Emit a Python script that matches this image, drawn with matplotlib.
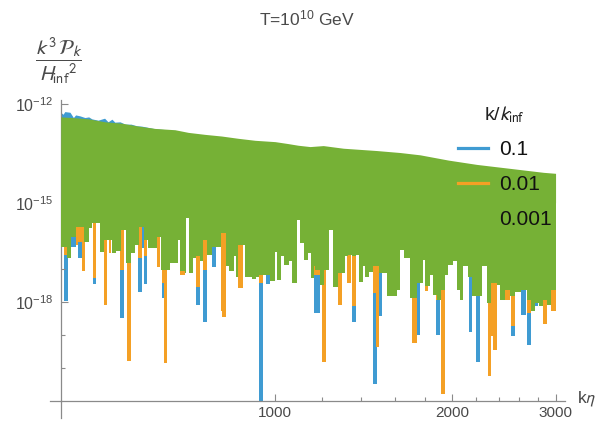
import numpy as np
import matplotlib.pyplot as plt
from matplotlib.lines import Line2D
from matplotlib.ticker import FixedLocator, NullFormatter

plt.rcParams['font.family'] = ['Liberation Sans', 'DejaVu Sans']
plt.rcParams['mathtext.fontset'] = 'stixsans'

# values; powers are log10 of k^3 P_k / H_inf^2
series_labels = ['0.1', '0.01', '0.001']
colors = ['#3f9bd2', '#f4a025', '#76b136']

# upper envelope of the k/k_inf = 0.001 curve
green_top_keta = [432, 452, 482, 514, 548, 586, 625, 676, 712, 760, 811, 866, 925,
                  1000, 1053, 1095, 1147, 1208, 1307, 1489, 1632, 1765, 1972, 2203,
                  2510, 2860, 3000]
green_top_log = [-12.40, -12.42, -12.46, -12.55, -12.59, -12.68, -12.75, -12.79, -12.87,
                 -12.93, -12.98, -13.05, -13.11, -13.15, -13.21, -13.26, -13.30, -13.27,
                 -13.35, -13.42, -13.48, -13.55, -13.71, -13.84, -13.96, -14.08, -14.11]

# lower (oscillation minima) profile of the 0.001 curve, as steps
green_low_keta = [432, 442, 450, 458, 474, 482, 489, 504, 512, 529, 537, 546, 557, 569,
                  578, 586, 598, 609, 629, 640, 663, 683, 690, 704, 707, 714, 724, 733,
                  745, 755, 767, 782, 793, 808, 824, 835, 851, 857, 865, 881, 889, 912,
                  928, 939, 955, 966, 981, 1000, 1009, 1024, 1037, 1056, 1070, 1089,
                  1103, 1120, 1136, 1151, 1166, 1170, 1193, 1212, 1235, 1256, 1281,
                  1301, 1315, 1332, 1350, 1371, 1391, 1410, 1423, 1447, 1467, 1505,
                  1549, 1579, 1614, 1632, 1660, 1697, 1743, 1788, 1800, 1835, 1860,
                  1885, 1917, 1946, 1972, 2011, 2037, 2064, 2091, 2127, 2160, 2252,
                  2291, 2330, 2383, 2414, 2462, 2510, 2560, 2621, 2680, 2725, 2768,
                  2815, 2860, 2898, 2947, 3000]
green_low_log = [-16.33, -16.68, -16.03, -15.73, -16.18, -15.78, -15.62, -16.48, -16.13,
                 -16.53, -16.46, -15.83, -16.83, -16.53, -16.28, -15.73, -16.13, -16.38,
                 -16.03, -17.03, -16.83, -16.13, -17.08, -17.13, -15.47, -17.13, -16.68,
                 -16.63, -16.78, -16.13, -16.58, -16.33, -16.33, -15.93, -16.93, -17.08,
                 -16.63, -17.24, -16.28, -16.28, -17.24, -17.32, -17.24, -17.19, -17.19,
                 -17.19, -17.36, -16.48, -17.34, -16.63, -16.88, -16.78, -17.44, -15.52,
                 -16.23, -16.73, -16.53, -17.29, -16.93, -17.03, -17.49, -17.03, -15.83,
                 -17.54, -17.13, -17.13, -16.63, -16.58, -16.63, -16.58, -17.39, -16.93,
                 -17.24, -17.11, -16.93, -17.13, -17.82, -17.84, -17.64, -16.43, -16.68,
                 -17.89, -17.44, -16.73, -17.52, -17.19, -17.79, -17.94, -17.64, -17.19,
                 -16.88, -16.78, -17.64, -17.94, -16.93, -17.24, -17.84, -16.93, -18.04,
                 -17.44, -17.50, -17.94, -17.64, -17.84, -17.70, -17.64, -17.94, -18.29,
                 -18.04, -18.14, -17.94, -18.09, -17.64, -17.64]

# upper envelope of the 0.1 curve where it shows above the green one
blue_top_keta = [432, 436, 439, 448, 454, 458, 466, 475, 482, 488, 500, 513, 520, 528,
                 534, 545, 556, 569, 582, 593, 609, 625, 676]
blue_top_log = [-12.26, -12.32, -12.24, -12.26, -12.42, -12.34, -12.37, -12.42, -12.40,
                -12.46, -12.50, -12.44, -12.55, -12.47, -12.56, -12.55, -12.62, -12.62,
                -12.67, -12.68, -12.72, -12.76, -12.81]

# deep minima that reach below the green band: start, end, depth
blue_dip_start = [432, 437, 450, 463, 490, 545, 585, 593, 598, 642, 733, 745, 755, 782,
                  939, 966, 1136, 1166, 1315, 1350, 1467, 1505, 1697, 1743, 1880, 1946,
                  1985, 2138, 2194, 2520, 2621, 2680, 2768, 2815]
blue_dip_end = [436, 444, 458, 470, 496, 553, 593, 598, 606, 647, 745, 750, 767, 793,
                955, 981, 1151, 1193, 1326, 1371, 1490, 1518, 1724, 1765, 1909, 1972,
                2011, 2166, 2232, 2560, 2669, 2725, 2805, 2854]
blue_dip_log = [-16.33, -17.99, -16.35, -16.68, -17.47, -18.49, -17.72, -16.38, -17.46,
                -17.89, -18.09, -16.78, -18.63, -16.96, -21.0, -17.47, -16.53, -18.34,
                -16.63, -18.62, -20.49, -18.42, -17.89, -19.02, -19.0, -17.19, -16.88,
                -18.93, -19.83, -19.03, -18.39, -19.32, -18.14, -18.14]

orange_dip_start = [432, 437, 452, 459, 462, 470, 490, 512, 522, 545, 561, 585, 598, 631,
                    642, 647, 682, 690, 724, 733, 755, 808, 814, 865, 939, 1024, 1103,
                    1166, 1203, 1219, 1281, 1327, 1350, 1467, 1486, 1518, 1697, 1713,
                    1800, 1880, 1917, 2300, 2330, 2350, 2462, 2520, 2680, 2860, 2947]
orange_dip_end = [436, 444, 458, 462, 470, 476, 496, 518, 526, 553, 569, 593, 606, 638,
                  647, 655, 689, 703, 733, 745, 767, 814, 824, 881, 955, 1037, 1120,
                  1193, 1219, 1235, 1301, 1346, 1371, 1486, 1505, 1539, 1713, 1743,
                  1823, 1909, 1946, 2330, 2350, 2383, 2510, 2560, 2725, 2898, 3000]
orange_dip_log = [-16.03, -16.58, -16.03, -16.28, -16.18, -17.08, -17.29, -18.09, -16.53,
                  -17.03, -19.80, -16.68, -16.63, -16.95, -17.44, -19.85, -16.13, -17.19,
                  -16.68, -17.54, -17.03, -18.29, -18.47, -17.59, -17.42, -16.63, -16.23,
                  -17.20, -19.82, -17.03, -18.09, -17.42, -18.14, -17.74, -19.37, -17.13,
                  -17.89, -19.25, -17.69, -17.94, -20.79, -20.24, -19.05, -19.47, -17.94,
                  -18.75, -18.34, -18.67, -18.29]

x_major = [1000, 2000, 3000]
x_major_labels = ['1000', '2000', '3000']
x_minor = [1200, 1400, 1600, 1800, 2200, 2400, 2600, 2800]
y_major = [1e-12, 1e-15, 1e-18]
y_minor = [1e-13, 1e-14, 1e-16, 1e-17, 1e-19, 1e-20]

axis_gray = '#8a8a8a'
text_gray = '#4a4a4a'

fig = plt.figure(figsize=(6.07, 4.21), dpi=100)
ax = fig.add_axes([0.100, 0.0482, 0.8308, 0.7143])
ax.set_xscale('log')
ax.set_yscale('log')


def draw_dips(starts, ends, logs, color, z):
    starts = np.array(starts, float)
    ends = np.array(ends, float)
    lows = 10.0 ** np.array(logs)
    ceil = 10.0 ** -15.2
    ax.bar(starts, ceil - lows, width=ends - starts, bottom=lows, align='edge',
           color=color, linewidth=0, zorder=z)


# 0.1 curve
ax.fill_between(blue_top_keta, 10.0 ** np.array(blue_top_log), 1e-15,
                color=colors[0], linewidth=0, zorder=1)
draw_dips(blue_dip_start, blue_dip_end, blue_dip_log, colors[0], 1)
# 0.01 curve
draw_dips(orange_dip_start, orange_dip_end, orange_dip_log, colors[1], 2)
# 0.001 curve
ax.fill_between(green_top_keta, 10.0 ** np.array(green_top_log), 1e-15,
                color=colors[2], linewidth=0, zorder=3)
ax.fill_between(green_low_keta, 10.0 ** np.array(green_low_log), 10.0 ** -14.9,
                step='post', color=colors[2], linewidth=0, zorder=3)

ax.set_xlim(432, 3113)
ax.set_ylim(1e-21, 10 ** -11.888)

for s in ['top', 'right']:
    ax.spines[s].set_visible(False)
for s in ['left', 'bottom']:
    ax.spines[s].set_color(axis_gray)
    ax.spines[s].set_linewidth(0.9)
# Mathematica-like axis overhang at the origin
ax.plot([-0.022, 0], [0, 0], transform=ax.transAxes, color=axis_gray, lw=0.9, clip_on=False)
ax.plot([0, 0], [-0.057, 0], transform=ax.transAxes, color=axis_gray, lw=0.9, clip_on=False)

ax.xaxis.set_major_locator(FixedLocator(x_major))
ax.set_xticklabels(x_major_labels)
ax.xaxis.set_minor_locator(FixedLocator(x_minor))
ax.xaxis.set_minor_formatter(NullFormatter())
ax.yaxis.set_major_locator(FixedLocator(y_major))
ax.yaxis.set_minor_locator(FixedLocator(y_minor))
ax.yaxis.set_minor_formatter(NullFormatter())
ax.tick_params(which='both', direction='in', color=axis_gray, labelcolor=text_gray,
               labelsize=11.5, width=0.8)
ax.tick_params(which='major', length=5)
ax.tick_params(which='minor', length=3)
ax.tick_params(axis='x', pad=3.5, labelsize=11)
ax.tick_params(axis='y', pad=5)

fig.text(0.505, 0.957, 'T=$\\mathregular{10^{10}}$ GeV', ha='center', va='center',
         fontsize=12.5, color=text_gray)
fig.text(59 / 607, 1 - 61 / 421, r'$\dfrac{k^3\,\mathcal{P}_k}{{H_{\mathrm{inf}}}^2}$',
         ha='center', va='center', fontsize=15, color=text_gray)
fig.text(587 / 607, 1 - 399 / 421, 'k$\\eta$', ha='center', va='center',
         fontsize=12.5, color=text_gray)

handles = [Line2D([], [], color=c, lw=2.3) for c in colors]
leg = ax.legend(handles, series_labels, title='k/$k_{\\mathrm{inf}}$', loc='upper left',
                bbox_to_anchor=(458 / 607, 1 - 104 / 421), bbox_transform=fig.transFigure,
                frameon=False, fontsize=15, title_fontsize=14, handlelength=1.45,
                handletextpad=0.5, labelspacing=0.75, borderpad=0, borderaxespad=0)
for t in leg.get_texts():
    t.set_color('#111111')
leg.get_title().set_color('#222222')

fig.savefig('out.png', dpi=100)
